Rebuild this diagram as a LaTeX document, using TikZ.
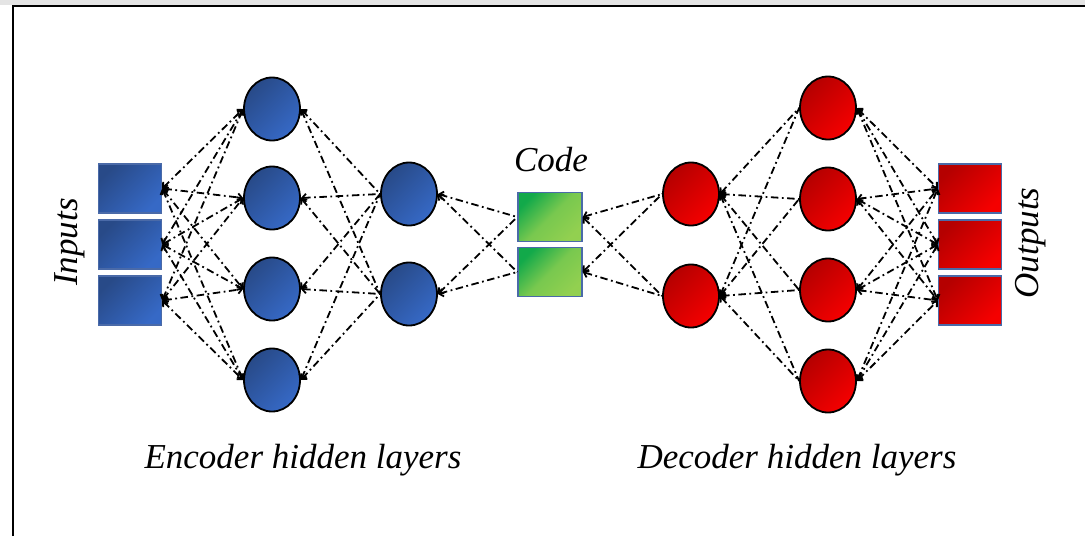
\documentclass[tikz,border=0pt]{standalone}
\usepackage{fontspec}
\setmainfont{Liberation Serif}
\usetikzlibrary{arrows.meta,shapes.geometric}

\definecolor{bluedark}{HTML}{284A88}
\definecolor{bluelight}{HTML}{3669C6}
\definecolor{reddark}{HTML}{B50000}
\definecolor{redlight}{HTML}{F50000}
\definecolor{greendark}{HTML}{12A94A}
\definecolor{greenlight}{HTML}{92D050}
\definecolor{boxedge}{HTML}{4A6AA8}
\definecolor{topstrip}{HTML}{E4E4E4}

\tikzset{
  unit/.style={ellipse, draw=black, line width=1.8pt, minimum width=56pt,
    minimum height=63pt, inner sep=0pt},
  encunit/.style={unit, left color=bluedark, right color=bluelight, shading angle=45},
  decunit/.style={unit, left color=reddark, right color=redlight, shading angle=45},
  cell/.style={rectangle, draw=boxedge, line width=1.4pt, minimum width=63pt,
    minimum height=49pt, inner sep=0pt},
  incell/.style={cell, left color=bluedark, right color=bluelight, shading angle=45},
  outcell/.style={cell, left color=reddark, right color=redlight, shading angle=45},
  codecell/.style={cell, minimum width=64pt, left color=greendark,
    right color=greenlight, middle color=greenlight!80!greendark, shading angle=45},
  link/.style={line width=1.8pt, dash pattern=on 7.5pt off 3.5pt on 1.8pt off 3.5pt},
  headL/.style={link, {Straight Barb[length=4pt,width=8pt]}-},
  headLR/.style={link, {Straight Barb[length=4pt,width=8pt]}-{Straight Barb[length=4pt,width=8pt]}},
  caption/.style={font=\itshape\fontsize{35}{40}\selectfont, inner sep=0pt}
}

\begin{document}
\begin{tikzpicture}[x=1pt, y=-1pt]
  % canvas and frame
  \useasboundingbox (0,0) rectangle (1085,536);
  \fill[white] (0,0) rectangle (1085,536);
  \fill[topstrip] (0,0) rectangle (1085,4.5);
  \draw[line width=2pt] (13,536) -- (13,5.5) -- (1085,5.5);

  % input cells
  \node[incell] (in1) at (130,188.5) {};
  \node[incell] (in2) at (130,244.5) {};
  \node[incell] (in3) at (130,300.5) {};

  % encoder hidden layers
  \node[encunit] (ea1) at (272,109) {};
  \node[encunit] (ea2) at (272,198) {};
  \node[encunit] (ea3) at (272,289) {};
  \node[encunit] (ea4) at (272,380) {};
  \node[encunit] (eb1) at (409,194) {};
  \node[encunit] (eb2) at (409,294) {};

  % code cells
  \node[codecell] (c1) at (550,217) {};
  \node[codecell] (c2) at (550,272) {};

  % decoder hidden layers
  \node[decunit] (da1) at (691,194) {};
  \node[decunit] (da2) at (691,296) {};
  \node[decunit] (db1) at (828,108) {};
  \node[decunit] (db2) at (828,199) {};
  \node[decunit] (db3) at (828,290) {};
  \node[decunit] (db4) at (828,381) {};

  % output cells
  \node[outcell] (out1) at (970,188.5) {};
  \node[outcell] (out2) at (970,244.5) {};
  \node[outcell] (out3) at (970,300.5) {};

  % connections
  \foreach \i in {1,2,3}
    \foreach \j in {1,2,3,4}
      \draw[headLR] (in\i.east) -- (ea\j.west);
  \foreach \i in {1,2,3,4}
    \foreach \j in {1,2}
      \draw[headL] (ea\i.east) -- (eb\j.west);
  \foreach \i in {1,2}
    \foreach \j in {1,2}
      \draw[headL] (eb\i.east) -- (c\j.west);
  \foreach \i in {1,2}
    \foreach \j in {1,2}
      \draw[headL] (c\i.east) -- (da\j.west);
  \foreach \i in {1,2}
    \foreach \j in {1,2,3,4}
      \draw[headL] (da\i.east) -- (db\j.west);
  \foreach \i in {1,2,3,4}
    \foreach \j in {1,2,3}
      \draw[headLR] (db\i.east) -- (out\j.west);

  % captions
  \node[caption, rotate=90] (inlbl) at (70,242) {Inputs};
  \node[caption, rotate=90] (outlbl) at (1031,243) {Outputs};
  \node[caption] (codelbl) at (551,160) {Code};
  \node[caption] (enclbl) at (303,460) {Encoder hidden layers};
  \node[caption] (declbl) at (797,460) {Decoder hidden layers};
\end{tikzpicture}
\end{document}
